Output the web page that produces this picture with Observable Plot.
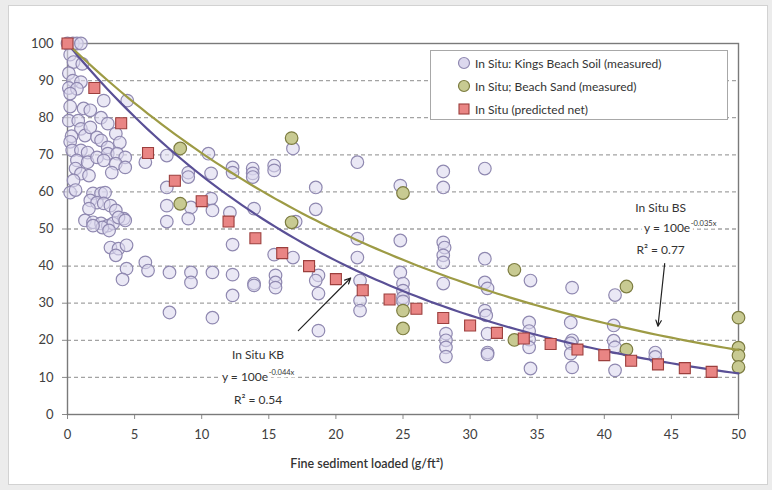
<!DOCTYPE html>
<html>
<head>
<meta charset="utf-8">
<script src="https://cdn.jsdelivr.net/npm/d3@7"></script>
<script src="https://cdn.jsdelivr.net/npm/@observablehq/plot@0.6"></script>
<style>
  html, body { margin: 0; padding: 0; }
  body { width: 772px; height: 490px; background: #ececec; position: relative; overflow: hidden; font-family: Lato, "Open Sans", sans-serif; }
  #panel { position: absolute; left: 8px; top: 5px; width: 760px; height: 480px; background: #fff; border: 1px solid #d2d2d2; box-sizing: border-box; }
  #chart { position: absolute; left: 0; top: 0; }
  #legend { position: absolute; left: 430px; top: 50px; width: 298px; height: 70px; background: #fff; border: 1px solid #a8a8a8; box-sizing: border-box; font-size: 12px; color: #333; }
  .row { position: absolute; left: 26px; height: 16px; display: flex; align-items: center; }
  .row svg { margin-right: 3px; }
</style>
</head>
<body>
<div id="panel"></div>
<div id="chart"></div>
<div id="legend"></div>
<script>
// ---- data ----
const xTicks = [0, 5, 10, 15, 20, 25, 30, 35, 40, 45, 50];
const yTicks = [0, 10, 20, 30, 40, 50, 60, 70, 80, 90, 100];
const gridY = [10, 20, 30, 40, 50, 60, 70, 80, 90];

const seriesNames = [
  "In Situ: Kings Beach Soil (measured)",
  "In Situ; Beach Sand (measured)",
  "In Situ (predicted net)"
];

// In Situ: Kings Beach Soil (measured) [x, y]
const kingsBeach = [
  [0,100],[0.4,100],[0.7,100],[1.0,100],
  [0.2,97],[0.45,95],[1.1,94.5],[0.1,92],[0.4,90],[1.0,89.6],[0.1,88],[0.7,87.8],[0.2,86.5],
  [0.2,83],[0.1,79.2],[0.8,79.2],[1.0,77],[1.3,75.2],[0.3,75],[0.2,73.5],[0.35,71.2],[1.0,71.2],[1.5,70.6],
  [0.7,68.5],[1.5,68],[0.6,66.3],[1.0,64.9],[1.6,64.4],[0.45,63.1],[0.2,59.8],[0.6,60.5],
  [1.2,82.5],[1.7,82],[2.5,80],[3.0,78.4],[1.7,77.4],[3.6,75.7],[2.2,74.7],[2.5,73.9],[3.9,73.3],
  [3.0,72],[3.0,70.3],[3.7,70.3],[4.3,69.3],[2.2,69.3],[2.7,68.5],[3.6,67.6],[4.3,66.6],[3.3,65.2],
  [2.7,84.6],[4.45,84.6],
  [1.9,59.6],[2.5,59.6],[2.8,59.8],[1.7,57.7],[2.2,57.1],[2.7,56.9],[3.2,56.3],[1.6,55.5],[3.6,55],
  [4.2,52.8],[1.3,52.3],[1.9,51.8],[2.5,51.5],[3.0,50.9],[3.4,51.5],[3.8,53.1],[4.3,52.3],[2.6,50.4],
  [3.1,49.6],[1.9,50.9],
  [3.2,45],[3.8,44.7],[4.4,45.6],[3.6,42.9],[4.4,39.3],[4.1,36.4],[5.8,41],[6.0,38.8],
  [5.8,68],[7.4,69.8],[9.0,65.2],[9.0,64],[10.5,70.3],[10.7,65],[7.4,61.2],[7.4,56.3],[9.2,55.8],
  [9.0,52.8],[7.4,52],[10.7,58.2],[10.8,55],[12.3,66.6],[12.3,65.2],[13.8,66.3],[13.8,65],[13.8,64],
  [12.1,54.4],[13.9,55.5],[12.3,45.8],[7.6,38.3],[9.2,38.3],[9.2,35.6],[10.8,38.3],[12.3,37.7],
  [12.3,32.1],[13.9,35.3],[13.9,34.8],[7.6,27.5],[10.8,26.1],
  [16.8,71.7],[15.4,67.1],[15.4,65.8],[18.5,61.2],[18.5,55.3],[17,52],[15.4,43.1],[16.8,42.3],
  [15.5,37.5],[15.5,35.6],[15.5,34.2],[18.7,37.5],[18.5,36.1],[18.7,32.6],[18.7,22.6],
  [21.6,68],[21.6,47.4],[21.6,42.3],[21.8,36.1],[21.8,30.7],[21.8,28],
  [24.8,61.7],[24.8,46.9],[24.8,38.3],[25,35.3],[25,33.4],[25,31.5],[25,30.5],
  [28,65.5],[28,61.2],[28,46.4],[28.1,45],[28,42.9],[28,41],[28,35.3],[28.2,21.8],[28.2,20],
  [28.2,18.1],[28.2,15.6],
  [31.1,66.3],[31.1,42],[31.1,35.6],[31.3,34],[31.1,28],[31.2,26.7],[31.3,21.8],[31.3,16.7],[31.3,16.2],
  [34.5,36.1],[34.4,24.8],[34.4,22.5],[34.4,20.2],[34.4,18.1],[34.5,12.4],
  [37.6,34.2],[37.5,24.8],[37.6,20],[37.5,19.2],[37.5,16.4],[37.6,12.7],
  [40.8,32.2],[40.7,24],[40.7,19.9],[40.8,18.1],[40.8,11.9],
  [43.8,16.7],[43.8,15.5]
];

// In Situ; Beach Sand (measured) [x, y]
const beachSand = [
  [8.4,71.7],[8.4,56.8],[16.7,74.5],[16.7,51.8],[25,59.7],[25,28],[25,23.2],
  [33.3,39],[33.3,20.1],[41.65,34.5],[41.65,17.5],[50,26.1],[50,18],[50,15.9],[50,12.8]
];

// In Situ (predicted net)
const predX = [0, 2, 4, 6, 8, 10, 12, 14, 16, 18, 20, 22, 24, 26, 28, 30, 32, 34, 36, 38, 40, 42, 44, 46, 48];
const predY = [100, 88, 78.5, 70.5, 63, 57.5, 52, 47.5, 43.5, 40, 36.5, 33.5, 31, 28.5, 26, 24, 22, 20.5, 19, 17.5, 16, 14.5, 13.5, 12.5, 11.5];

// Exponential trendlines y = 100 e^(-k x), coefficients as printed on the chart
const trendNames = ["In Situ KB", "In Situ BS"];
const trendA = [100, 100];
const trendK = [0.044, 0.035];
const trendR2 = ["0.54", "0.77"];

// ---- derived tables ----
const kbData = kingsBeach.map(([x, y]) => ({x, y}));
const bsData = beachSand.map(([x, y]) => ({x, y}));
const predData = predX.map((x, i) => ({x, y: predY[i]}));
const sampleX = d3.range(0, 50.001, 0.5);
const trendData = trendNames.flatMap((name, i) => sampleX.map(x => ({name, x, y: trendA[i] * Math.exp(-trendK[i] * x)})));

const colors = {
  kbFill: "#dcd8ee", kbStroke: "#8f88b0",
  bsFill: "#c8ca92", bsStroke: "#7c7c40",
  prFill: "#e98584", prStroke: "#9c3f3d",
  kbLine: "#5a5096", bsLine: "#9d9b45"
};

// annotation layout (data-space anchors)
const ann = [
  {title: trendNames[0], cx: 14.2, ty: 15.9, ey: 10.0, ry: 4.0, eqEnd: 14.95, k: trendK[0], r2: trendR2[0],
   ax1: 17.2, ay1: 22.6, ax2: 21.1, ay2: 36.8},
  {title: trendNames[1], cx: 44.2, ty: 55.6, ey: 50.1, ry: 44.2, eqEnd: 46.4, k: trendK[1], r2: trendR2[1],
   ax1: 44.5, ay1: 40.7, ax2: 44.0, ay2: 23.8}
];

const halo = {stroke: "white", strokeWidth: 7, paintOrder: "stroke", fill: "#333", fontSize: 12};

const chart = Plot.plot({
  width: 772,
  height: 490,
  marginLeft: 67,
  marginRight: 34,
  marginTop: 43,
  marginBottom: 76,
  style: {background: "transparent", fontFamily: "Lato, 'Open Sans', sans-serif", overflow: "visible"},
  x: {domain: [0, 50]},
  y: {domain: [0, 100]},
  marks: [
    Plot.ruleY(gridY, {stroke: "#a3a3a3", strokeWidth: 1.3, strokeDasharray: "4,3"}),
    Plot.axisY({ticks: yTicks, tickSize: 5, tickPadding: 9, stroke: "#8a8a8a", fill: "#404040", fontSize: 13, label: null}),
    Plot.axisX({ticks: xTicks, tickSize: 5, tickPadding: 10, stroke: "#8a8a8a", fill: "#404040", fontSize: 13, label: null}),
    Plot.frame({stroke: "#7a7a7a", strokeWidth: 1.4}),
    // annotations text with white halo (breaks the gridlines like the original)
    Plot.text(ann, {x: "cx", y: "ty", text: "title", ...halo}),
    Plot.text(ann, {x: "eqEnd", y: "ey", text: d => "y = " + 100 + "e", textAnchor: "end", ...halo}),
    Plot.text(ann, {x: "eqEnd", y: "ey", text: d => "-" + d.k + "x", textAnchor: "start", dx: 0.5, dy: -5, ...halo, fontSize: 7.5, strokeWidth: 5}),
    Plot.text(ann, {x: "cx", y: "ry", text: d => "R² = " + d.r2, ...halo}),
    Plot.arrow(ann, {x1: "ax1", y1: "ay1", x2: "ax2", y2: "ay2", stroke: "#222", strokeWidth: 1.2, headLength: 8, headAngle: 50}),
    // points
    Plot.dot(kbData, {x: "x", y: "y", r: 6.3, fill: colors.kbFill, fillOpacity: 0.6, stroke: colors.kbStroke, strokeWidth: 1.2}),
    Plot.dot(bsData, {x: "x", y: "y", r: 6.3, fill: colors.bsFill, stroke: colors.bsStroke, strokeWidth: 1.2}),
    // trendlines
    Plot.line(trendData, {x: "x", y: "y", z: "name", stroke: d => d.name === trendNames[0] ? colors.kbLine : colors.bsLine, strokeWidth: 2.2}),
    Plot.dot(predData, {x: "x", y: "y", symbol: "square", r: 6.2, fill: colors.prFill, stroke: colors.prStroke, strokeWidth: 1.1}),
    // axis title
    Plot.text(["Fine sediment loaded (g/ft²)"], {x: () => 22.3, frameAnchor: "bottom", dy: 53, fill: "#333", fontSize: 12.5, fontWeight: 600})
  ]
});
document.getElementById("chart").appendChild(chart);

// legend
const legend = document.getElementById("legend");
const legendMarks = [
  `<circle cx="7" cy="8" r="5.5" fill="${colors.kbFill}" stroke="${colors.kbStroke}" stroke-width="1.2"/>`,
  `<circle cx="7" cy="8" r="5.5" fill="${colors.bsFill}" stroke="${colors.bsStroke}" stroke-width="1.2"/>`,
  `<rect x="2" y="3" width="10" height="10" fill="${colors.prFill}" stroke="${colors.prStroke}" stroke-width="1.1"/>`
];
const rowTops = [4, 27, 50];
seriesNames.forEach((name, i) => {
  const row = document.createElement("div");
  row.className = "row";
  row.style.top = rowTops[i] + "px";
  row.innerHTML = `<svg width="15" height="16">${legendMarks[i]}</svg><span>${name}</span>`;
  legend.appendChild(row);
});
</script>
</body>
</html>
